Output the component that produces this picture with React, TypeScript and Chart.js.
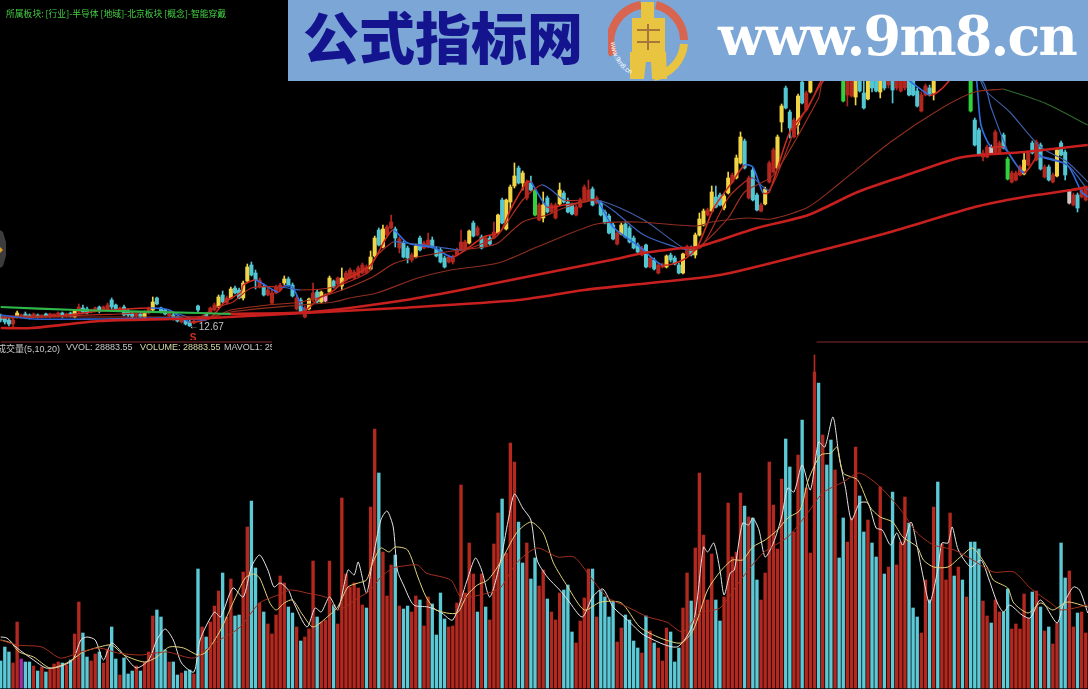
import React, { useEffect, useRef } from "react";
import { Chart, registerables } from "chart.js";

Chart.register(...registerables);

// Candles, prices. One entry per session.
const wickHighs = [
  13.9,13.7,13.5,13.6,14.2,13.9,14.1,13.9,14.0,13.9,
  13.8,14.0,14.0,13.9,14.1,14.1,14.0,14.1,14.3,14.9,
  14.8,14.6,14.4,14.6,14.7,14.7,15.0,15.5,14.9,14.6,
  14.8,14.4,14.1,14.0,14.0,14.2,14.6,15.6,15.6,14.6,
  14.4,14.1,14.0,13.7,13.5,13.4,13.3,13.3,14.8,13.7,
  14.0,14.6,15.0,15.8,16.2,15.7,16.6,16.7,16.5,17.2,
  18.9,19.1,18.3,17.5,16.9,16.5,16.3,16.8,17.0,17.7,
  17.6,17.0,15.7,15.5,14.7,15.5,17.0,16.3,16.2,15.9,
  17.7,17.3,17.6,18.5,18.2,18.5,18.3,18.7,19.0,18.8,
  20.2,21.7,22.5,22.8,22.8,23.8,22.6,21.6,21.2,20.7,
  20.0,20.9,21.7,21.2,22.0,21.6,20.6,20.5,19.7,19.8,
  19.8,20.5,22.3,21.3,22.3,23.2,22.7,21.8,21.7,21.7,
  23.1,23.9,25.5,25.4,26.8,29.0,28.7,28.2,27.3,27.7,
  26.4,25.0,26.1,25.7,25.0,25.0,27.0,26.2,25.5,25.0,
  24.8,25.5,26.8,27.3,26.6,25.7,25.2,24.3,23.9,23.0,
  22.2,23.0,23.1,22.7,21.7,21.0,20.7,20.9,19.7,19.5,
  19.0,19.0,19.8,20.0,19.7,19.0,20.0,20.8,20.7,22.0,
  24.0,24.4,24.5,26.7,26.7,26.0,25.9,28.1,28.0,29.8,
  32.1,31.4,27.7,28.5,26.0,25.0,26.6,29.2,30.5,31.8,
  34.9,36.7,34.3,33.5,35.9,38.3,36.2,39.3,41.3,41.8,
  42.8,42.3,43.3,42.8,42.3,40.3,39.3,39.8,40.8,39.8,
  38.3,40.8,39.3,39.8,40.3,39.3,39.3,39.3,38.8,38.8,
  39.3,38.8,38.3,36.5,36.1,36.9,36.8,39.8,41.3,41.8,
  41.3,42.3,41.8,41.8,40.8,41.3,39.8,33.5,32.5,30.3,
  30.8,30.8,32.3,31.2,32.0,29.6,28.2,28.2,28.8,30.1,
  30.2,31.2,31.3,31.0,28.8,28.8,28.0,30.5,31.2,30.3,
  26.3,26.0,26.0,26.5,26.7,
];
const bodyHighs = [
  13.7,13.5,13.3,13.3,14.0,13.8,13.9,13.8,13.9,13.8,
  13.8,13.9,13.9,13.9,14.0,14.0,13.9,14.0,14.2,14.6,
  14.5,14.4,14.3,14.5,14.6,14.6,14.8,15.3,14.8,14.5,
  14.6,14.2,14.0,13.9,13.9,14.1,14.4,15.1,15.5,14.5,
  14.3,14.0,13.8,13.6,13.4,13.3,13.1,13.2,14.7,13.6,
  13.9,14.5,14.8,15.6,15.8,15.5,16.4,16.5,16.3,17.0,
  18.6,18.8,18.0,17.3,16.6,16.3,16.0,16.6,16.8,17.4,
  17.4,16.8,15.5,15.3,14.5,15.4,16.0,16.1,16.1,15.8,
  17.5,17.2,17.5,17.5,18.0,18.3,18.1,18.5,18.8,18.6,
  19.6,21.5,22.3,22.4,22.6,23.1,22.4,21.4,21.0,20.5,
  19.8,20.7,21.5,21.0,21.3,21.3,20.4,20.3,19.5,19.6,
  19.6,20.3,21.1,21.1,22.2,23.0,22.5,21.6,21.5,21.5,
  22.1,23.8,25.3,25.3,26.6,27.7,28.5,28.0,27.1,27.0,
  26.3,24.8,24.8,25.5,24.8,24.8,26.3,26.0,25.1,24.8,
  24.6,25.3,26.6,26.3,26.4,25.5,25.0,24.1,23.7,22.8,
  22.0,22.8,22.9,22.5,21.5,20.8,20.5,20.8,19.5,19.3,
  18.8,18.8,19.7,19.8,19.5,18.8,19.9,20.6,20.5,21.8,
  23.4,24.2,24.3,26.1,25.6,25.8,25.7,27.5,27.8,29.5,
  31.6,31.2,27.5,28.3,25.8,24.8,26.4,29.0,30.3,31.6,
  34.7,36.5,34.1,33.3,35.7,37.1,36.0,38.5,40.8,41.1,
  42.3,41.8,42.5,42.3,41.8,39.8,38.8,39.3,40.3,39.3,
  36.0,40.3,38.8,39.3,39.3,38.3,38.8,37.8,38.3,38.3,
  38.3,38.3,37.3,36.2,35.8,36.7,36.5,39.3,40.8,41.3,
  40.8,41.8,40.8,41.3,40.3,40.8,39.3,33.3,32.3,30.0,
  30.6,30.6,32.1,31.0,31.8,29.4,28.0,28.0,28.6,29.3,
  30.0,31.0,31.1,30.8,28.6,28.6,27.8,30.3,31.0,30.1,
  26.3,25.8,25.8,26.3,26.5,
];
const bodyLows = [
  13.3,13.1,12.9,12.9,13.6,13.6,13.6,13.6,13.7,13.6,
  13.6,13.7,13.7,13.7,13.7,13.7,13.7,13.7,13.6,14.1,
  14.1,14.0,14.1,14.2,14.2,14.3,14.3,14.6,14.4,14.3,
  13.8,13.8,13.6,13.7,13.6,13.6,14.0,14.3,14.9,14.1,
  13.9,13.7,13.4,13.2,13.1,12.9,12.7,13.0,14.3,13.3,
  13.6,14.0,14.3,14.6,15.1,15.0,15.5,16.0,15.5,15.5,
  17.2,17.8,17.3,16.6,15.8,15.8,15.0,16.0,16.3,17.0,
  16.8,15.7,14.4,14.1,13.6,14.4,15.3,15.1,15.1,15.2,
  16.1,16.6,16.9,16.7,17.3,17.5,17.5,17.7,18.0,18.0,
  18.4,19.7,20.8,20.6,21.8,22.5,21.5,20.5,19.6,19.5,
  19.3,19.6,20.3,20.5,20.6,20.6,19.7,19.1,18.6,19.1,
  19.1,19.8,20.3,20.3,21.0,21.7,21.8,20.5,20.7,20.9,
  21.5,22.0,23.0,22.4,25.1,26.7,27.0,27.0,25.5,26.3,
  23.8,23.3,23.5,24.1,24.1,23.5,24.9,25.1,24.1,23.9,
  23.8,24.6,25.3,25.4,24.8,25.0,23.8,23.0,22.0,21.4,
  20.9,21.9,21.6,21.1,20.5,20.1,19.8,18.6,18.6,18.4,
  18.0,18.6,18.6,19.3,18.9,18.0,18.0,19.8,19.8,19.8,
  21.8,22.8,23.8,24.2,24.6,24.8,24.5,26.0,27.1,27.5,
  29.0,28.5,25.5,25.3,24.3,24.2,24.9,27.1,28.1,28.5,
  33.1,34.5,32.5,31.6,32.8,35.0,34.3,36.1,38.3,38.8,
  39.3,39.8,39.8,40.3,39.3,35.2,35.8,35.7,35.6,36.2,
  34.5,35.4,36.5,36.2,36.1,36.5,36.8,36.3,36.5,36.2,
  36.5,35.8,35.8,34.7,34.2,35.8,35.8,36.0,38.3,38.8,
  38.3,39.3,38.3,38.8,38.1,38.3,34.2,30.8,29.8,29.6,
  29.6,30.0,30.0,30.0,30.5,27.4,27.1,27.3,27.8,27.9,
  28.8,30.0,29.3,28.4,27.6,27.3,27.1,27.7,29.8,27.8,
  25.0,24.8,24.5,25.6,25.3,
];
const wickLows = [
  13.1,12.9,12.7,12.5,13.5,13.5,13.5,13.4,13.6,13.5,
  13.5,13.6,13.5,13.6,13.6,13.5,13.6,13.6,13.5,14.0,
  14.0,13.9,14.0,14.1,14.0,14.2,14.2,14.4,14.3,14.2,
  13.7,13.6,13.5,13.5,13.5,13.3,13.9,14.2,14.8,14.0,
  13.8,13.6,13.3,13.1,13.0,12.8,12.67,12.9,14.1,13.2,
  13.5,13.9,14.2,14.5,15.0,14.9,15.4,15.9,15.4,15.3,
  17.1,17.7,16.4,16.5,15.7,15.7,14.9,15.9,16.2,16.8,
  16.7,15.6,14.3,14.0,13.5,14.3,15.1,15.0,15.0,15.1,
  16.0,16.5,16.8,16.3,17.2,17.4,17.4,17.6,17.9,17.9,
  18.3,19.6,20.7,20.5,21.7,22.4,20.6,20.0,19.5,19.0,
  19.1,19.5,20.2,20.4,20.5,20.5,19.6,19.0,18.5,19.0,
  18.9,19.7,20.2,20.2,20.9,21.6,21.7,20.4,20.6,20.8,
  21.4,21.9,22.9,22.3,24.3,26.5,26.9,26.3,25.3,26.2,
  23.7,23.2,23.1,24.0,24.0,23.4,24.8,25.0,24.0,23.8,
  23.7,24.5,25.2,25.3,24.7,24.9,23.7,22.9,21.9,21.3,
  20.8,21.8,21.5,21.0,20.4,20.0,19.7,18.5,18.5,18.3,
  17.9,18.5,18.5,19.1,18.8,17.9,17.9,19.7,19.7,19.5,
  21.7,22.7,23.7,24.1,24.5,24.7,24.3,25.9,27.0,27.4,
  28.9,28.4,25.4,25.2,24.2,24.1,24.8,27.0,28.0,28.4,
  32.1,34.4,31.5,31.5,31.8,34.9,34.2,36.0,38.1,38.3,
  38.8,39.3,39.5,39.8,38.3,35.1,34.7,35.6,34.8,36.1,
  34.4,35.3,36.1,36.1,35.5,36.3,36.5,35.0,36.3,36.1,
  36.3,35.7,35.7,34.6,34.1,35.7,35.7,35.3,37.8,38.3,
  37.8,38.8,37.8,38.3,37.8,37.7,34.1,30.7,29.7,29.2,
  29.5,29.9,29.9,29.9,30.4,27.3,27.0,27.2,27.7,27.8,
  28.7,29.9,29.2,28.3,27.5,27.2,27.0,27.6,29.7,27.3,
  24.9,24.7,24.1,25.5,25.2,
];
// y big up, r up, c down, g big down, p pink, w doji
const candleKinds =
  "cccryrccrc" + "rcrrrcrcyr" + "ccrrcrrccr" + "cccrcyrycc" + "crccrccrcr" +
  "crrycryccy" + "yccrcrrrry" + "ccrcryrcyp" + "ycryrrrrrr" + "yycyrrcrcc" +
  "rycrrccccr" + "rrrrycrcrc" + "rycyyycyrc" + "grycrryccc" + "rrrrcrcccc" +
  "ryccccrcrc" + "rrycccyrcy" + "yyryccyyry" +
  "ycrccryrry" + "yccrycryrc" + "ycyrcgrryc" + "cyccycrcrr" + "rcccrrcyrr" +
  "crcrcrgccr" + "rwrrcgrrry" + "rcrcrcrycc" + "wrcrr";

// Volume bars, in units of about 525 lots (last bar 28883.55).
const volumes = [
  27,41,36,25,66,29,26,26,22,17,21,16,19,24,26,25,23,28,54,86,
  55,31,27,34,36,25,39,61,29,13,30,14,17,22,17,26,36,72,78,71,
  38,26,26,13,15,17,18,14,119,61,51,66,82,97,115,71,109,72,73,116,
  161,187,120,85,76,64,54,73,112,105,81,75,61,47,51,59,127,71,66,68,
  127,83,64,190,114,101,105,100,83,80,181,259,215,136,92,123,133,82,79,82,
  76,92,88,62,91,84,53,95,69,61,62,85,203,95,145,114,76,114,81,68,
  144,175,189,135,245,226,166,125,145,109,130,102,118,89,76,68,95,98,103,56,
  45,67,90,119,119,71,98,91,71,86,46,60,73,68,47,40,35,72,57,45,
  40,27,60,56,26,40,80,115,87,140,215,153,88,134,88,67,91,185,131,136,
  195,182,171,170,108,88,115,226,183,139,209,249,221,156,233,268,200,135,316,305,
  253,223,248,218,130,170,146,170,241,192,156,168,145,131,201,114,121,196,123,146,
  191,165,80,71,55,108,88,181,206,144,108,175,112,121,108,91,146,146,139,87,
  72,65,88,76,76,99,59,64,59,94,70,96,97,81,57,61,44,65,145,110,
  117,61,75,76,55,
];
const volumeKinds =
  "cccrrmccrc" + "rcrrrcrcrr" + "ccrrcrrccr" + "cccrcrrrcc" + "crccrccrcr" +
  "crrrcrrccr" + "rccrcrrrrr" + "ccrcrrrcrr" + "rcrrrrrrrc" + "rrcrrrcrcc" +
  "rrcrrccccr" + "rrrrrrcrcr" + "rrcrrrccrc" + "crrcrrrccc" +
  "rrrrcrcccc" + "rrccccrcrc" + "rrrcccrrcr" + "rrrrccrrrr" + "rcrccrrrrr" +
  "rccrrcrrrc" + "rccrccrrrc" + "crccrcrcrr" + "rcccrrcrcr" + "rrcrcrcccr" +
  "rcrrccrrrr" + "rcrcrcrrcc" + "rrcrr";

// Moving averages: session index and price read at each turning point.
const ma5Sessions = [0,14.5,24,36.5,41,46,51,54.5,58.5,59,62,65,67.5,69,71,74,77.5,80.5,84,90,93.5,95.5,99,105.5,110,117.5,121.5,124,128,129,133,137,142,145,149,155.5,161,166,169.5,173.5,178,181,183,185.5,187,192,196.5,199.5,204,211.5,217.5,221.5,226,228,230.5,234,237,238.5,241,244,249,252.5,254,259.5,263,264.5];
const ma5Prices = [13.5,13.7,14.2,14.5,14.3,13.1,13.5,15.1,16.1,16.8,17.3,16.6,16.1,16.7,16.6,14.3,15.5,16.1,17.3,18.8,21.3,22.3,21,20.5,19.6,21.6,22.1,24.3,27.1,27.1,24.6,24.8,25.1,25.3,22.6,20.6,18.8,19.3,20.6,24.5,27.1,28.8,28.6,26,26.1,32.1,34.6,37.1,39.8,39.3,38.3,37.1,35.8,36.1,37.1,39.3,38.3,32.8,30.6,30.6,28,29.8,29.5,28.8,26.1,25.6];
const ma10Sessions = [0,14.5,29,41.5,47.5,52,56.5,61,68,73,81,89.5,91,95.5,98.5,106.5,112.5,117.5,121,127,131.5,134,137,142,145,149.5,156.5,167,170.5,177,181,183,187,193,198,200,207,219,231,239,241,245.5,249,252.5,259.5,264.5];
const ma10Prices = [13.7,13.7,13.9,14.1,13.4,14.5,15.1,16.5,16.6,16.3,16.6,18.1,19.5,21.1,21,20.6,20.3,21,21.8,25.3,26.8,26.3,25.3,25.3,25.3,24.1,21.8,20.3,20.6,25.5,27.1,27.5,26.3,32.1,35.8,37.1,40.1,39.8,39.5,37.1,34.5,29.8,28.1,29.6,28.8,26.3];
const ma20Sessions = [0,24,52,56,65,73,81,90.5,96,106.5,117.5,121,127,133,137,145,156.5,167,170.5,177,181,188,199,200,209,226,237,239.5,245.5,253,259.5,264.5];
const ma20Prices = [13.6,13.6,13.7,14.3,14.8,15.1,16,17.6,19,20,20.6,21,23.1,23.8,24.5,25.3,23.3,20.3,20.8,23.5,26.1,27.8,35.5,37.1,40.3,40.5,38.3,36.3,34.1,30.6,29.1,27.1];
const ma60EarlySessions = [0,8,24,40.5,50];
const ma60EarlyPrices = [13.8,13.4,13.4,13.5,13.3];
const ma60Sessions = [50,56,73,81,85,91.5,101.5,109.5,121,130.5,145,155,169.5,173,182,187.5,196.5,204.5,216.5,229,237,244];
const ma60Prices = [13.3,14.1,14.8,15.1,15.5,16,17.5,18.3,19,20.6,22.9,23.1,22.7,23.1,23.5,23.4,24.6,27.1,31.1,34.5,36.1,36.4];
const ma60LateSessions = [244,254,264.5];
const ma60LatePrices = [36.4,35,32.8];
const ma120EarlySessions = [0,18.5,48.5,56];
const ma120EarlyPrices = [14.6,14.3,14,13.9];
const ma120Sessions = [56,75.5,97,112,129,148.5,156.5,166,169.5,184,196.5,208.5,220.5,233,238.5,249,264.5];
const ma120Prices = [13.9,14.1,15.2,16.3,17.7,19.3,20,20.5,20.6,22.5,23.8,26.1,27.8,29.5,29.8,30.1,30.8];
const ma250Sessions = [0,7.5,24,41.5,51,74,97,126,142,158,175,197,216.5,237,249,260.5,264.5];
const ma250Prices = [12.5,12.5,13.2,13.4,13.5,14,14.5,15.3,16.3,17,17.8,20,22.1,24.6,25.6,26.3,26.6];

// Volume averages, same reading.
const vma5Sessions = [0,1.5,4,8,11,14,17.5,19.5,21,23,25,27,30,33,36,38,40,42,44,47,48.5,52,53.5,56.5,59,61,63,65,66.5,68,70,71,74.5,76.5,78,80,82,84.5,86,87,89,90.5,92.5,94,95.5,96.5,98,100.5,104,107,110,113.5,115.5,117,119,121.5,123.5,125,127,129,130.5,133,136,138,141.5,144,146.5,149,152.5,156.5,164.5,168.5,171,172,173.5,175,176,177.5,178.5,180.5,182,183,184.5,186,188,190,191.5,193,195,197,199,200.5,202.5,204,205.5,207,209,211,213,214.5,216.5,218,219.5,221.5,223,224.5,226,228,229,230.5,231.5,233,236,238.5,240.5,242.5,244,245.5,248.5,250.5,253,257,258.5,261,262.5,264.5];
const vma5Values = [51,50,40,28,20,21,28,48,51,48,28,45,33,20,28,48,59,48,25,16,48,76,71,100,91,121,133,118,101,105,98,88,61,80,76,91,78,118,113,126,95,128,168,177,161,118,103,83,81,76,68,108,130,118,91,125,168,194,180,168,128,111,98,88,71,91,99,81,68,53,41,65,141,136,145,118,93,115,118,165,163,170,158,131,145,171,200,196,223,198,246,241,271,231,201,168,185,185,160,158,143,155,143,166,141,110,85,118,145,145,161,138,121,128,108,85,76,83,73,70,88,65,83,101,98,75];
const vma10Sessions = [0,2.5,4.5,8,12,16,19,20,24,27,30,35,38,41,44.5,48,50,53.5,56.5,59.5,61.5,63,65.5,67,69,71,73.5,76,80,82,84.5,87,89,90.5,92.5,94.5,96,99,101.5,103.5,106,111,113.5,116,118.5,121.5,125.5,129,132,134.5,138,142,146,151,155.5,160.5,165.5,168.5,172,175,178,180.5,183,186,189,191.5,194.5,196.5,199.5,202,203.5,205,208.5,211.5,214,217,219.5,223,224.5,227,230.5,233.5,236.5,240,241.5,245,246.5,250,253,256,259.5,264.5];
const vma10Values = [48,45,36,31,20,25,33,36,41,43,33,26,31,41,40,33,36,58,85,110,114,110,85,78,85,88,73,61,73,81,101,105,108,125,140,136,141,138,111,91,78,75,93,103,108,125,155,166,155,125,101,78,86,85,61,50,45,58,98,116,128,128,141,148,158,170,178,208,233,235,241,215,208,181,171,166,151,141,128,121,121,131,140,121,108,100,85,75,85,78,86,81];
const vma20Sessions = [0,4,10,14.5,19.5,24,28.5,34,40.5,47,52,58,63,67.5,70.5,74.5,79.5,82,87,90,92.5,95.5,98,101.5,103.5,109.5,112,116.5,121.5,125.5,130.5,135.5,139.5,143.5,147.5,152.5,157.5,162,166,170,175,180,185.5,191.5,196,200,205,209,214,219,223,227,232,236.5,241.5,246.5,250.5,255.5,258,264.5];
const vma20Values = [48,43,41,30,36,40,35,33,36,30,45,60,85,93,98,95,90,78,90,98,111,120,122,123,115,108,91,93,100,125,140,131,131,111,91,81,71,66,56,75,80,108,135,151,173,195,206,215,201,178,155,143,138,128,116,116,100,85,78,83];

const barWidthVolume = 2.7;
const bodyWidth = 3.4;
const xMin = -0.17;
const xMax = 264.55;

const candleColors: Record<string, string> = {
  y: "#f2d544", r: "#b5261f", c: "#52c6d2", g: "#2fd13c", p: "#ff9ac0", w: "#c8c8c8",
};
const volumeColors: Record<string, string> = { c: "#5bc9d6", r: "#b3281f", m: "#a02ca8" };

const points = (xs: number[], ys: number[]) => xs.map((x, i) => ({ x, y: ys[i] }));

const rising = (up: string, down: string) => ({
  borderColor: (ctx: any) => (ctx.p0.parsed.y <= ctx.p1.parsed.y ? up : down),
});

const line = (data: any[], color: string, width: number, extra: any = {}) => ({
  type: "line", data, borderColor: color, borderWidth: width, pointRadius: 0,
  tension: 0.25, order: 0, ...extra,
});

const panelOptions = (yMin: number, yMax: number): any => ({
  responsive: false,
  animation: false,
  maintainAspectRatio: false,
  layout: { padding: 0 },
  events: [],
  plugins: { legend: { display: false }, tooltip: { enabled: false } },
  scales: {
    x: { type: "linear", display: false, offset: false, min: xMin, max: xMax },
    y: { type: "linear", display: false, min: yMin, max: yMax },
  },
});

const lowMarker = {
  id: "lowMarker",
  afterDatasetsDraw(chart: any) {
    const { ctx, scales } = chart;
    const x = scales.x.getPixelForValue(46);
    const y = scales.y.getPixelForValue(12.67);
    ctx.save();
    ctx.fillStyle = "#c4c4c4";
    ctx.font = "10px 'Liberation Sans'";
    ctx.textBaseline = "middle";
    ctx.fillText("\u2190", x - 1, y);
    ctx.fillText("12.67", x + 9, y + 1);
    ctx.fillStyle = "#d8301f";
    ctx.font = "bold 10px 'Liberation Sans'";
    ctx.fillText("S", x, y + 12);
    ctx.restore();
  },
};

export default function App() {
  const priceRef = useRef<HTMLCanvasElement>(null);
  const volumeRef = useRef<HTMLCanvasElement>(null);

  useEffect(() => {
    const idx = wickHighs.map((_, i) => i);
    const colors = idx.map((i) => candleColors[candleKinds[i]] ?? candleColors.r);
    const price = new Chart(priceRef.current!, {
      type: "bar",
      data: {
        datasets: [
          line(points(ma250Sessions, ma250Prices), "#c8201e", 2.6),
          line(points(ma120Sessions, ma120Prices), "#c8201e", 2.6),
          line(points(ma120EarlySessions, ma120EarlyPrices), "#2fb84a", 2.2),
          line(points(ma60EarlySessions, ma60EarlyPrices), "#2a5fd0", 1.6),
          line(points(ma60Sessions, ma60Prices), "#8f2e20", 1.1),
          line(points(ma60LateSessions, ma60LatePrices), "#2f6b2c", 1.1),
          line(points(ma20Sessions, ma20Prices), "#8f2e20", 1.1, { segment: rising("#a3301f", "#3f5fa8") }),
          line(points(ma10Sessions, ma10Prices), "#b32a20", 1.2, { segment: rising("#b32a20", "#3a62bd") }),
          line(points(ma5Sessions, ma5Prices), "#cf2a20", 1.6, { segment: rising("#cf2a20", "#2f6fe6") }),
          {
            data: idx.map((i) => ({ x: i, y: [bodyLows[i], bodyHighs[i]] })),
            backgroundColor: colors, barThickness: bodyWidth, grouped: false, order: 1,
          },
          {
            data: idx.map((i) => ({ x: i, y: [wickLows[i], wickHighs[i]] })),
            backgroundColor: colors, barThickness: 1, grouped: false, order: 2,
          },
        ] as any,
      },
      options: panelOptions(11.3, 45.3),
      plugins: [lowMarker],
    });

    const vols = new Chart(volumeRef.current!, {
      type: "bar",
      data: {
        datasets: [
          line(points(vma20Sessions, vma20Values), "#a3301f", 1),
          line(points(vma10Sessions, vma10Values), "#e2d27a", 1),
          line(points(vma5Sessions, vma5Values), "#e4e4e4", 1),
          line([{ x: 0, y: 346 }, { x: 66, y: 346 }, { x: 66.5, y: null }, { x: 198.5, y: 346 }, { x: 264.55, y: 346 }], "#5a1c1e", 1.6, { tension: 0 }),
          {
            data: volumes.map((v, i) => ({ x: i, y: v })),
            backgroundColor: volumes.map((_, i) => volumeColors[volumeKinds[i]] ?? volumeColors.r),
            barThickness: barWidthVolume, grouped: false, order: 1,
          },
          {
            data: [{ x: 198, y: [316, 333] }],
            backgroundColor: "#b3281f", barThickness: 1, grouped: false, order: 1,
          },
        ] as any,
      },
      options: panelOptions(-1, 348),
    });
    return () => {
      price.destroy();
      vols.destroy();
    };
  }, []);

  const label: React.CSSProperties = {
    position: "absolute", top: 0, font: "9px 'Liberation Sans', 'Noto Sans CJK SC'", whiteSpace: "nowrap", color: "#c9c9c9",
  };

  return (
    <div style={{ position: "fixed", left: 0, top: 0, width: 1088, height: 689, background: "#000", overflow: "hidden" }}>
      <canvas ref={priceRef} width={1088} height={340} style={{ position: "absolute", left: 0, top: 0, display: "block" }} />
      <canvas ref={volumeRef} width={1088} height={349} style={{ position: "absolute", left: 0, top: 340, display: "block" }} />

      <div style={{ position: "absolute", left: 6, top: 7, font: "8.8px 'Noto Sans CJK SC'", color: "#44d044", whiteSpace: "nowrap" }}>
        所属板块: [行业]-半导体 [地域]-北京板块 [概念]-智能穿戴
      </div>

      <div style={{ position: "absolute", left: 0, top: 342, width: 272, height: 12, overflow: "hidden" }}>
        <span style={{ ...label, left: -3 }}>成交量(5,10,20)</span>
        <span style={{ ...label, left: 66 }}>VVOL: 28883.55</span>
        <span style={{ ...label, left: 140, color: "#d9d9a8" }}>VOLUME: 28883.55</span>
        <span style={{ ...label, left: 224 }}>MAVOL1: 25</span>
      </div>

      <svg width={8} height={40} style={{ position: "absolute", left: 0, top: 229 }}>
        <polygon points="0,1 3,3 6,13 6,27 3,37 0,39" fill="#3c3c3c" />
        <polygon points="0,18 3,21 0,24" fill="#e09a20" />
      </svg>

      <div style={{ position: "absolute", left: 288, top: 0, width: 800, height: 81, background: "#7ca6d6", overflow: "hidden" }}>
        <div style={{ position: "absolute", left: 15, top: -6, font: "900 56px 'Noto Sans CJK SC'", color: "#14148f", whiteSpace: "nowrap" }}>
          公式指标网
        </div>
        <svg width={90} height={81} viewBox="0 0 90 81" style={{ position: "absolute", left: 320, top: 0 }}>
          <path d="M5 55 A37 37 0 0 1 33 5" fill="none" stroke="#d8654f" strokeWidth={8} />
          <path d="M48 5 A37 37 0 0 1 76 40" fill="none" stroke="#d8654f" strokeWidth={8} />
          <path d="M76 44 A37 37 0 0 1 46 77" fill="none" stroke="#e8c440" strokeWidth={8} />
          <rect x={33} y={2} width={13} height={16} fill="#e8c440" />
          <rect x={24} y={18} width={33} height={34} fill="#e8c440" />
          <polygon points="22,52 58,52 59,79 44,79 43,62 38,62 36,79 22,79" fill="#e8c440" />
          <path d="M29 30 H52 M29 42 H52 M40 24 V50" stroke="#a8763a" strokeWidth={2} />
          <path id="logoArc" d="M3 42 A38 38 0 0 0 36 79" fill="none" />
          <text fontSize={7} fontFamily="'Liberation Sans'" fill="#ffffff">
            <textPath href="#logoArc">www.9m8.cn</textPath>
          </text>
        </svg>
        <div style={{ position: "absolute", left: 430, top: 4, font: "bold 54px 'DejaVu Serif'", color: "#ffffff", whiteSpace: "nowrap", letterSpacing: -1.8 }}>
          www.9m8.cn
        </div>
      </div>
    </div>
  );
}
